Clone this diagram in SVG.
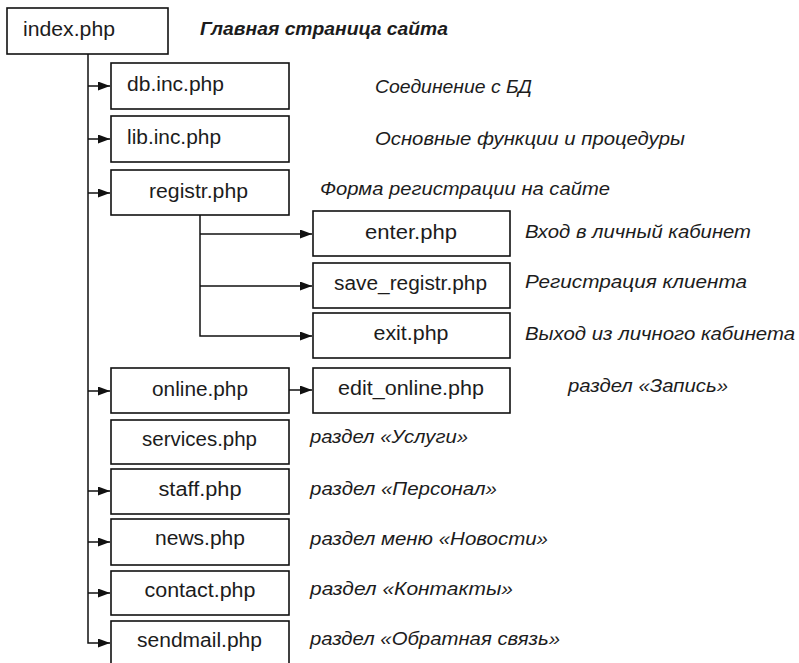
<svg xmlns="http://www.w3.org/2000/svg" width="799" height="663" viewBox="0 0 799 663">
<style>
.box{fill:#fff;stroke:#111;stroke-width:1.6}
.lbl{font-family:"Liberation Sans",Arial,sans-serif;font-size:20px;fill:#1c1c1c}
.c{text-anchor:middle}
.desc{font-family:"Liberation Sans",Arial,sans-serif;font-size:19px;font-style:italic;fill:#1c1c1c}
.title{font-weight:bold}
.wire{fill:none;stroke:#111;stroke-width:1.5}
</style>
<defs>
<marker id="ah" markerUnits="userSpaceOnUse" markerWidth="13" markerHeight="10" refX="12" refY="4.5" orient="auto">
<path d="M0,0 L12,4.5 L0,9 z" fill="#111"/>
</marker>
</defs>
<rect width="799" height="663" fill="#fff"/>
<g id="connectors">
<path class="wire" d="M88,54 V643 H110" marker-end="url(#ah)"/>
<path class="wire" d="M88,86 H110" marker-end="url(#ah)"/>
<path class="wire" d="M88,139 H110" marker-end="url(#ah)"/>
<path class="wire" d="M88,193 H110" marker-end="url(#ah)"/>
<path class="wire" d="M88,391 H110" marker-end="url(#ah)"/>
<path class="wire" d="M88,491 H110" marker-end="url(#ah)"/>
<path class="wire" d="M88,542 H110" marker-end="url(#ah)"/>
<path class="wire" d="M88,593 H110" marker-end="url(#ah)"/>
<path class="wire" d="M200,215 V336 H312" marker-end="url(#ah)"/>
<path class="wire" d="M200,234 H312" marker-end="url(#ah)"/>
<path class="wire" d="M200,286 H312" marker-end="url(#ah)"/>
<path class="wire" d="M289,390 H312" marker-end="url(#ah)"/>
</g>
<g id="index"><rect class="box" x="7" y="8" width="161" height="46"/><text class="lbl" x="23" y="36" textLength="92" lengthAdjust="spacingAndGlyphs">index.php</text></g>
<g id="db"><rect class="box" x="111" y="63" width="178" height="46"/><text class="lbl" x="127" y="91" textLength="97" lengthAdjust="spacingAndGlyphs">db.inc.php</text></g>
<g id="lib"><rect class="box" x="111" y="116" width="178" height="46"/><text class="lbl" x="127" y="144" textLength="94" lengthAdjust="spacingAndGlyphs">lib.inc.php</text></g>
<g id="registr"><rect class="box" x="111" y="170" width="178" height="45"/><text class="lbl c" x="198.5" y="198" textLength="99" lengthAdjust="spacingAndGlyphs">registr.php</text></g>
<g id="enter"><rect class="box" x="313" y="211" width="197" height="45"/><text class="lbl c" x="411" y="239" textLength="92" lengthAdjust="spacingAndGlyphs">enter.php</text></g>
<g id="save_registr"><rect class="box" x="313" y="263" width="197" height="45"/><text class="lbl c" x="410.5" y="290" textLength="153" lengthAdjust="spacingAndGlyphs">save_registr.php</text></g>
<g id="exit"><rect class="box" x="313" y="313" width="197" height="45"/><text class="lbl c" x="411" y="340" textLength="75" lengthAdjust="spacingAndGlyphs">exit.php</text></g>
<g id="edit_online"><rect class="box" x="313" y="368" width="197" height="45"/><text class="lbl c" x="411" y="395" textLength="146" lengthAdjust="spacingAndGlyphs">edit_online.php</text></g>
<g id="online"><rect class="box" x="111" y="368" width="178" height="45"/><text class="lbl c" x="200" y="396" textLength="96" lengthAdjust="spacingAndGlyphs">online.php</text></g>
<g id="services"><rect class="box" x="111" y="420" width="178" height="44"/><text class="lbl c" x="199.5" y="446" textLength="115" lengthAdjust="spacingAndGlyphs">services.php</text></g>
<g id="staff"><rect class="box" x="111" y="469" width="178" height="45"/><text class="lbl c" x="200" y="496" textLength="83" lengthAdjust="spacingAndGlyphs">staff.php</text></g>
<g id="news"><rect class="box" x="111" y="519" width="178" height="46"/><text class="lbl c" x="200" y="545" textLength="90" lengthAdjust="spacingAndGlyphs">news.php</text></g>
<g id="contact"><rect class="box" x="111" y="571" width="178" height="44"/><text class="lbl c" x="200" y="597" textLength="111" lengthAdjust="spacingAndGlyphs">contact.php</text></g>
<g id="sendmail"><rect class="box" x="111" y="621" width="178" height="52"/><text class="lbl c" x="199.5" y="647" textLength="125" lengthAdjust="spacingAndGlyphs">sendmail.php</text></g>
<g id="descriptions">
<text class="desc title" x="200" y="35" textLength="248" lengthAdjust="spacingAndGlyphs">Главная страница сайта</text>
<text class="desc" x="375" y="93" textLength="157" lengthAdjust="spacingAndGlyphs">Соединение с БД</text>
<text class="desc" x="375" y="145" textLength="310" lengthAdjust="spacingAndGlyphs">Основные функции и процедуры</text>
<text class="desc" x="320" y="195" textLength="290" lengthAdjust="spacingAndGlyphs">Форма регистрации на сайте</text>
<text class="desc" x="525" y="238" textLength="226" lengthAdjust="spacingAndGlyphs">Вход в личный кабинет</text>
<text class="desc" x="525" y="288" textLength="222" lengthAdjust="spacingAndGlyphs">Регистрация клиента</text>
<text class="desc" x="525" y="340" textLength="270" lengthAdjust="spacingAndGlyphs">Выход из личного кабинета</text>
<text class="desc" x="568" y="392" textLength="160" lengthAdjust="spacingAndGlyphs">раздел «Запись»</text>
<text class="desc" x="310" y="443" textLength="158" lengthAdjust="spacingAndGlyphs">раздел «Услуги»</text>
<text class="desc" x="310" y="495" textLength="187" lengthAdjust="spacingAndGlyphs">раздел «Персонал»</text>
<text class="desc" x="310" y="545" textLength="238" lengthAdjust="spacingAndGlyphs">раздел меню «Новости»</text>
<text class="desc" x="310" y="595" textLength="203" lengthAdjust="spacingAndGlyphs">раздел «Контакты»</text>
<text class="desc" x="310" y="645" textLength="250" lengthAdjust="spacingAndGlyphs">раздел «Обратная связь»</text>
</g>
</svg>
